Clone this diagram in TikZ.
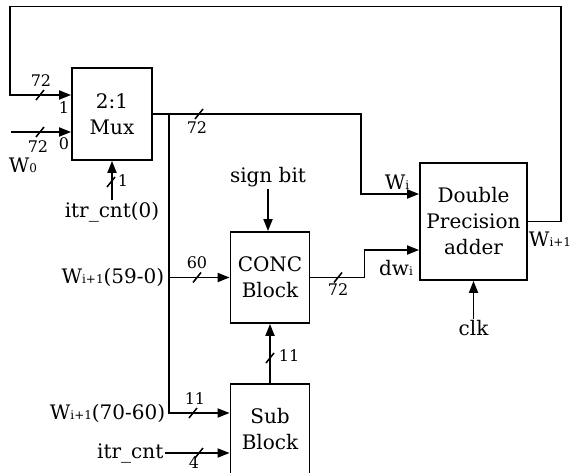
\documentclass[tikz,border=0pt]{standalone}
\usepackage{fontspec}
\setmainfont{DejaVu Serif}
\usetikzlibrary{arrows.meta,positioning}
\newcommand{\smsub}[1]{{\fontsize{12}{12}\selectfont #1}}
\newcommand{\busnum}{\fontsize{16}{16}\selectfont}

\begin{document}
\begin{tikzpicture}[x=1pt, y=-1pt,
  every node/.style={font=\fontsize{20}{26}\selectfont, inner sep=1.5pt},
  block/.style={draw, line width=1.8pt, align=center, inner sep=0pt},
  wire/.style={line width=1.8pt},
  busmark/.style={line width=1.5pt},
  buslbl/.style={font=\busnum, inner sep=0pt},
  >={Triangle[length=12pt,width=9pt]}
]
\useasboundingbox (0,0) rectangle (572,473);

% blocks
\node[block, minimum width=80pt, minimum height=92pt] (mux) at (112,114) {2:1\\Mux};
\node[block, minimum width=79pt, minimum height=91pt] (conc) at (270,277.5) {CONC\\Block};
\node[block, minimum width=79pt, minimum height=91pt] (sub) at (270,429.5) {Sub\\Block};
\node[block, minimum width=107pt, minimum height=117pt] (adder) at (473.5,221.5) {Double\\Precision\\adder};

% outside labels
\node (sel) at (112,212) {itr\_cnt(0)};
\node (sign) at (268,177) {sign bit};
\node (clk) at (473.5,328) {clk};
\node (w0) at (23,165) {W\smsub{0}};
\node (wi) at (397,182) {W\smsub{i}};
\node (dwi) at (396,268) {dw\smsub{i}};
\node (wout) at (550,239) {W\smsub{i+1}};

% bus taps on the mux output
\coordinate (tap) at ([xshift=16pt]mux.east);
\coordinate (tap59) at (tap |- conc.west);
\coordinate (tap70) at ([yshift=16.5pt]tap |- sub.west);
\coordinate (w0in) at (11,132);
\node[left=3pt of tap59] (lo) {W\smsub{i+1}(59-0)};
\node[left=2pt of tap70] (hi) {W\smsub{i+1}(70-60)};
\node[anchor=east] (itr) at (165,453) {itr\_cnt};

% wires
\draw[wire,->] (adder.east) -- ++(33,0) -- ++(0,-215) -| ([xshift=-61pt,yshift=19pt]mux.west) -- ([yshift=19pt]mux.west);
\draw[wire,->] (w0in) -- (w0in -| mux.west);
\draw[wire,->] (sel.north) -- (mux.south);
\draw[wire,->] (mux.east) -- ++(208,0) |- ([yshift=27.5pt]adder.west);
\draw[wire] (tap) -- (tap59);
\draw[wire,->] (tap59) -- (conc.west);
\draw[wire,->] (tap59) |- ([yshift=16.5pt]sub.west);
\draw[wire,->] (itr.east) -- (itr.east -| sub.west);
\draw[wire,->] (sign.south) -- (sign.south |- conc.north);
\draw[wire,->] (sub.north) -- (conc.south);
\draw[wire,->] (conc.east) -- ++(54,0) |- ([yshift=-28.5pt]adder.west);
\draw[wire,->] (clk.north) -- (adder.south);

% bus width marks
\draw[busmark] (40,95) ++(-4,5) -- ++(8,-10);
\draw[busmark] (40,132) ++(-4,5) -- ++(8,-10);
\draw[busmark] (111,182) ++(-4,5) -- ++(8,-10);
\draw[busmark] (199,114) ++(-4,5) -- ++(8,-10);
\draw[busmark] (197,277.5) ++(-4,5) -- ++(8,-10);
\draw[busmark] (193,413) ++(-4,5) -- ++(8,-10);
\draw[busmark] (199,453) ++(-4,5) -- ++(8,-10);
\draw[busmark] (338,277.5) ++(-4,5) -- ++(8,-10);
\draw[busmark] (270,358) ++(-4,5) -- ++(8,-10);

\node[buslbl] (n1) at (41,81) {72};
\node[buslbl] (n2) at (38,147) {72};
\node[buslbl] (p1) at (64,108) {1};
\node[buslbl] (p0) at (64,144) {0};
\node[buslbl] (n3) at (123,181) {1};
\node[buslbl] (n4) at (197,128) {72};
\node[buslbl] (n5) at (197,263) {60};
\node[buslbl] (n6) at (195,399) {11};
\node[buslbl] (n7) at (194,463) {4};
\node[buslbl] (n8) at (338,290) {72};
\node[buslbl] (n9) at (289,356) {11};
\end{tikzpicture}
\end{document}
